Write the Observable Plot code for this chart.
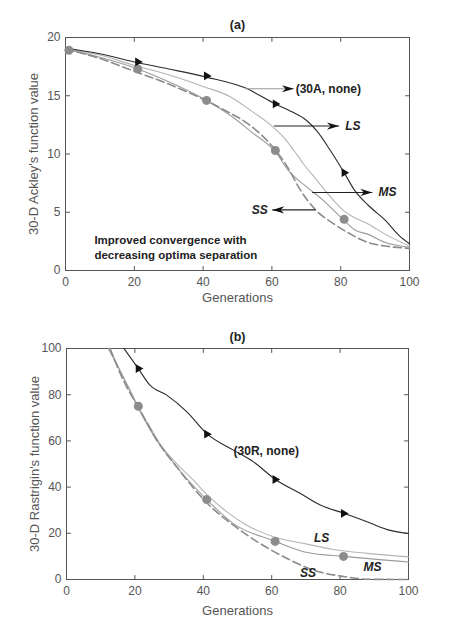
<!DOCTYPE html>
<html><head><meta charset="utf-8">
<script src="https://cdn.jsdelivr.net/npm/d3@7"></script>
<script src="https://cdn.jsdelivr.net/npm/@observablehq/plot@0.6"></script>
<style>body{margin:0;background:#fff;} svg{display:block;}</style>
</head><body><div id="chart"></div>
<script>
// ---------- data ----------
const genTicks = [0, 20, 40, 60, 80, 100];
const ackleyTicks = [0, 5, 10, 15, 20];
const rastTicks = [0, 20, 40, 60, 80, 100];

// (a) 30-D Ackley
const ackleyNone = [[0,19.1],[10,18.6],[20,17.9],[30,17.3],[41,16.6],[52,15.7],[61,14.3],[66,13.6],[70,12.9],[73,12],[77,10.3],[81,8.4],[84,6.9],[88,5.6],[93,4.3],[97,3],[100,2.3]];
const ackleyLS = [[0,19],[10,18.5],[20,17.6],[30,16.8],[40,15.8],[48,14.9],[54,13.7],[60,12.4],[63.5,11.4],[66.4,10.3],[69.3,9.1],[73.2,7.7],[77.1,6.3],[81,5.1],[83,4.7],[88,4.0],[93,3.1],[100,2.1]];
const ackleyMS = [[0,19],[10,18.3],[21,17.3],[30,16.2],[41,14.6],[48,13.3],[54,11.9],[61,10.2],[65,8.5],[70,7.2],[75,6.0],[81,4.3],[84,3.5],[88,3.1],[93,2.4],[100,2.0]];
const ackleySS = [[0,19],[10,18.2],[20,17.1],[30,16],[40,14.7],[46,13.8],[53,12.6],[60,10.7],[64.5,8.9],[68.3,6.9],[72.7,5.2],[78,4.0],[83,3.1],[88,2.4],[93,2.1],[100,1.9]];
const ackleyMSMarks = [[1,18.9],[21,17.3],[41,14.6],[61,10.3],[81,4.4]];
const ackleyNoneMarks = [[21,17.9],[41,16.7],[61,14.3],[81,8.4]];
// annotation arrows: [from, to, y]
const ackleyNoneArrow = [[52.3, 66.4, 15.6]];
const ackleyArrows = [[60.6, 79.5, 12.4], [71.7, 89.2, 6.7], [72.7, 60.1, 5.2]];
// annotation labels: [text, x, y]
const ackleyNoneLabel = [["(30A, none)", 66.9, 15.6]];
const ackleyRightLabels = [["LS", 81.3, 12.4], ["MS", 91.0, 6.7]];
const ackleyLeftLabels = [["SS", 58.8, 5.2]];
const ackleyComment = [["Improved convergence with", 8.4, 2.6], ["decreasing optima separation", 8.4, 1.3]];

// (b) 30-D Rastrigin
const rastNone = [[16.8,100],[21,91.3],[24.4,84.1],[29.3,79.8],[35.2,72.6],[41.2,62.9],[48.8,56],[54.7,50.9],[61.1,43.3],[68.4,37.2],[74.2,32.2],[81.3,28.6],[87.9,25],[93.8,21.6],[100,19.9]];
const rastLS = [[12.7,100],[15.6,90.6],[18.6,82],[21.5,73.3],[24.4,66.1],[27.3,58.9],[32.2,50.2],[37.1,43],[41.2,36.5],[46.9,29.3],[52.7,23.5],[60.5,18.5],[70.3,15.3],[78.1,13],[87.9,11.3],[100,9.8]];
const rastMS = [[12.2,100],[15.6,90.6],[20.8,74.7],[26.4,60.3],[32.2,48.8],[41.2,34.3],[48.8,24.2],[61.1,16.5],[70.3,11.7],[81.3,10],[100,7.6]];
const rastSS = [[12.7,100],[16.6,86.3],[21.5,73.3],[26.4,60.3],[32.2,48.8],[41.2,32.9],[48.8,23.5],[56.6,15.6],[64.5,9.1],[72.3,4.0],[81.4,1.2],[88,0.1],[100,0]];
const rastMSMarks = [[21,75],[41,34.6],[61,16.5],[81,10]];
const rastNoneMarks = [[21,91.3],[41,62.9],[61,43.3],[81,28.6]];
const rastNoneLabel = [["(30R, none)", 58.4, 55.6]];
const rastLabels = [["LS", 74.6, 17.8], ["MS", 89.5, 5.5], ["SS", 70.6, 2.6]];

// ---------- styling ----------
const FONT = "'Liberation Sans', Arial, Helvetica, sans-serif";
const AX = "#555";
const C_NONE = "#2b2b2b", C_LS = "#b4b4b4", C_MS = "#9b9b9b", C_SS = "#8a8a8a", C_DOT = "#8c8c8c";

const arrowHead = {
  draw(ctx, size) {
    const r = Math.sqrt(size / Math.PI);
    ctx.moveTo(0, 0);
    ctx.lineTo(-2 * r, -0.6 * r);
    ctx.lineTo(-1.4 * r, 0);
    ctx.lineTo(-2 * r, 0.6 * r);
    ctx.closePath();
  }
};
const tickShape = {draw(ctx, l) { ctx.moveTo(0, 0); ctx.lineTo(0, -l); }};

function frameAxes(yTicks, yMax) {
  const innerX = genTicks.slice(1, -1), innerY = yTicks.slice(1, -1);
  const tick = {length: 4, anchor: "start", shape: tickShape, stroke: AX, strokeWidth: 1};
  return [
    Plot.frame({stroke: AX}),
    Plot.vector(innerX, {x: d => d, y: () => 0, rotate: 0, ...tick}),
    Plot.vector(innerX, {x: d => d, y: () => yMax, rotate: 180, ...tick}),
    Plot.vector(innerY, {x: () => 0, y: d => d, rotate: 90, ...tick}),
    Plot.vector(innerY, {x: () => 100, y: d => d, rotate: 270, ...tick}),
    Plot.axisX(genTicks, {anchor: "bottom", tickSize: 0, tickPadding: 7, fill: AX, fontSize: 12}),
    Plot.axisY(yTicks, {anchor: "left", tickSize: 0, tickPadding: 5, fill: AX, fontSize: 12})
  ];
}

function titles(title, yLabel, titleDy, xLabelDy) {
  return [
    Plot.text([title], {frameAnchor: "top", text: d => d, dy: titleDy, lineAnchor: "middle", textAnchor: "middle", fontWeight: "bold", fontSize: 12.5, fill: "#222"}),
    Plot.text(["Generations"], {frameAnchor: "bottom", text: d => d, dy: xLabelDy, lineAnchor: "middle", textAnchor: "middle", fontSize: 13, fill: AX}),
    Plot.text([yLabel], {frameAnchor: "left", text: d => d, rotate: -90, dx: -32, lineAnchor: "middle", textAnchor: "middle", fontSize: 13, fill: AX})
  ];
}

const xy = {x: d => d[0], y: d => d[1]};
const lbl = {x: d => d[1], y: d => d[2], text: d => d[0], fontWeight: "bold", fontSize: 12, fill: "#222"};
const arrowLink = {x1: d => d[0], x2: d => d[1], y1: d => d[2], y2: d => d[2], strokeWidth: 1.1};
const arrowTip = {x: d => d[1], y: d => d[2], symbol: arrowHead, r: 6, fill: "#111", stroke: "none"};

// ---------- panel (a) ----------
const plotA = Plot.plot({
  width: 473, height: 316,
  marginTop: 37, marginBottom: 46, marginLeft: 65, marginRight: 64,
  x: {domain: [0, 100], axis: null},
  y: {domain: [0, 20], axis: null},
  style: {fontFamily: FONT, background: "#fff"},
  marks: [
    ...frameAxes(ackleyTicks, 20),
    Plot.line(ackleyLS, {...xy, stroke: C_LS, strokeWidth: 1.1, curve: "monotone-x"}),
    Plot.line(ackleyMS, {...xy, stroke: C_MS, strokeWidth: 1.1, curve: "monotone-x"}),
    Plot.line(ackleySS, {...xy, stroke: C_SS, strokeWidth: 1.6, strokeDasharray: "8,4", curve: "monotone-x"}),
    Plot.line(ackleyNone, {...xy, stroke: C_NONE, strokeWidth: 1.1, curve: "monotone-x"}),
    Plot.dot(ackleyMSMarks, {...xy, r: 4.5, fill: C_DOT, stroke: "none"}),
    Plot.dot(ackleyNoneMarks, {...xy, r: 4.2, symbol: "triangle2", rotate: 90, fill: "#111", stroke: "none"}),
    Plot.link(ackleyNoneArrow, {...arrowLink, stroke: "#9a9a9a"}),
    Plot.link(ackleyArrows, {...arrowLink, stroke: "#222"}),
    Plot.dot(ackleyNoneArrow.concat(ackleyArrows), {...arrowTip, rotate: d => d[0] > d[1] ? 180 : 0}),
    Plot.text(ackleyNoneLabel, {...lbl, textAnchor: "start"}),
    Plot.text(ackleyRightLabels, {...lbl, textAnchor: "start", fontStyle: "italic"}),
    Plot.text(ackleyLeftLabels, {...lbl, textAnchor: "end", fontStyle: "italic"}),
    Plot.text(ackleyComment, {...lbl, textAnchor: "start", fontSize: 11.5}),
    ...titles("(a)", "30-D Ackley's function value", -13, 27)
  ]
});

// ---------- panel (b) ----------
const plotB = Plot.plot({
  width: 473, height: 316,
  marginTop: 32, marginBottom: 53, marginLeft: 66, marginRight: 65,
  x: {domain: [0, 100], axis: null},
  y: {domain: [0, 100], axis: null},
  style: {fontFamily: FONT, background: "#fff"},
  marks: [
    ...frameAxes(rastTicks, 100),
    Plot.line(rastLS, {...xy, stroke: C_LS, strokeWidth: 1.1, curve: "monotone-x"}),
    Plot.line(rastMS, {...xy, stroke: C_MS, strokeWidth: 1.1, curve: "monotone-x"}),
    Plot.line(rastSS, {...xy, stroke: C_SS, strokeWidth: 1.6, strokeDasharray: "8,4", curve: "monotone-x"}),
    Plot.line(rastNone, {...xy, stroke: C_NONE, strokeWidth: 1.1, curve: "monotone-x"}),
    Plot.dot(rastMSMarks, {...xy, r: 4.5, fill: C_DOT, stroke: "none"}),
    Plot.dot(rastNoneMarks, {...xy, r: 4.2, symbol: "triangle2", rotate: 90, fill: "#111", stroke: "none"}),
    Plot.text(rastNoneLabel, {...lbl}),
    Plot.text(rastLabels, {...lbl, fontStyle: "italic"}),
    ...titles("(b)", "30-D Rastrigin's function value", -12, 31)
  ]
});

const root = document.getElementById("chart");
root.appendChild(plotA);
root.appendChild(plotB);
</script></body></html>
